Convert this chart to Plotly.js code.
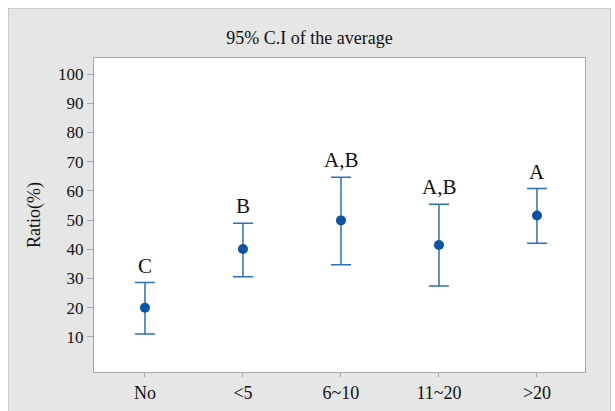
<!DOCTYPE html>
<html>
<head>
<meta charset="utf-8">
<script src="https://cdn.plot.ly/plotly-3.0.1.min.js"></script>
<style>
html,body{margin:0;padding:0;background:#ffffff;}
#wrap{position:absolute;left:8px;top:8px;width:601px;height:403px;border-left:1px solid #c9c9c9;border-top:1px solid #c9c9c9;border-right:1px solid #c9c9c9;background:#e6e6e6;}
#chart{width:601px;height:403px;}
</style>
</head>
<body>
<div id="wrap"><div id="chart"></div></div>
<script>
var categories = ["No", "<5", "6~10", "11~20", ">20"];
var means = [20.0, 40.1, 49.9, 41.5, 51.6];
var upper = [28.6, 48.9, 64.7, 55.4, 60.8];
var lower = [11.0, 30.6, 34.7, 27.4, 42.1];
var groups = ["C", "B", "A,B", "A,B", "A"];
var yTicks = [10, 20, 30, 40, 50, 60, 70, 80, 90, 100];

var SERIF = "Liberation Serif, Times New Roman, serif";

var errPlus = means.map(function(m, i){ return upper[i] - m; });
var errMinus = means.map(function(m, i){ return m - lower[i]; });

var trace = {
  type: "scatter",
  mode: "markers",
  x: categories,
  y: means,
  marker: {color: "#0b53a5", size: 10},
  error_y: {
    type: "data",
    symmetric: false,
    array: errPlus,
    arrayminus: errMinus,
    color: "#2c6fbd",
    thickness: 1.5,
    width: 10
  },
  hoverinfo: "skip"
};

var annotations = categories.map(function(c, i){
  return {
    x: c, y: upper[i], xref: "x", yref: "y",
    text: groups[i], showarrow: false,
    yanchor: "middle", yshift: 17,
    font: {family: SERIF, size: 21, color: "#111111"}
  };
});

var layout = {
  width: 601, height: 403,
  margin: {l: 85, r: 25, t: 49, b: 40},
  paper_bgcolor: "#e6e6e6",
  plot_bgcolor: "#ffffff",
  font: {family: SERIF, size: 17, color: "#111111"},
  showlegend: false,
  title: {
    text: "95% C.I of the average",
    font: {family: SERIF, size: 18, color: "#111111"},
    x: 0.5, xref: "container", xanchor: "center",
    y: 1 - 29/403, yref: "container", yanchor: "middle"
  },
  xaxis: {
    type: "category",
    range: [-0.52, 4.49],
    showgrid: false, zeroline: false,
    showline: true, mirror: true, linecolor: "#a8a8a8", linewidth: 1,
    ticks: "outside", ticklen: 4, tickcolor: "#a8a8a8",
    tickfont: {family: SERIF, size: 18, color: "#111111"}
  },
  yaxis: {
    range: [-2, 105.5],
    tickvals: yTicks,
    ticktext: yTicks.map(String),
    showgrid: false, zeroline: false,
    showline: true, mirror: true, linecolor: "#a8a8a8", linewidth: 1,
    ticks: "outside", ticklen: 6, tickcolor: "#a8a8a8",
    tickfont: {family: SERIF, size: 17, color: "#111111"},
    title: {text: "Ratio(%)", font: {family: SERIF, size: 18, color: "#111111"}, standoff: 12}
  },
  annotations: annotations
};

Plotly.newPlot("chart", [trace], layout, {displayModeBar: false, staticPlot: true});
</script>
</body>
</html>
